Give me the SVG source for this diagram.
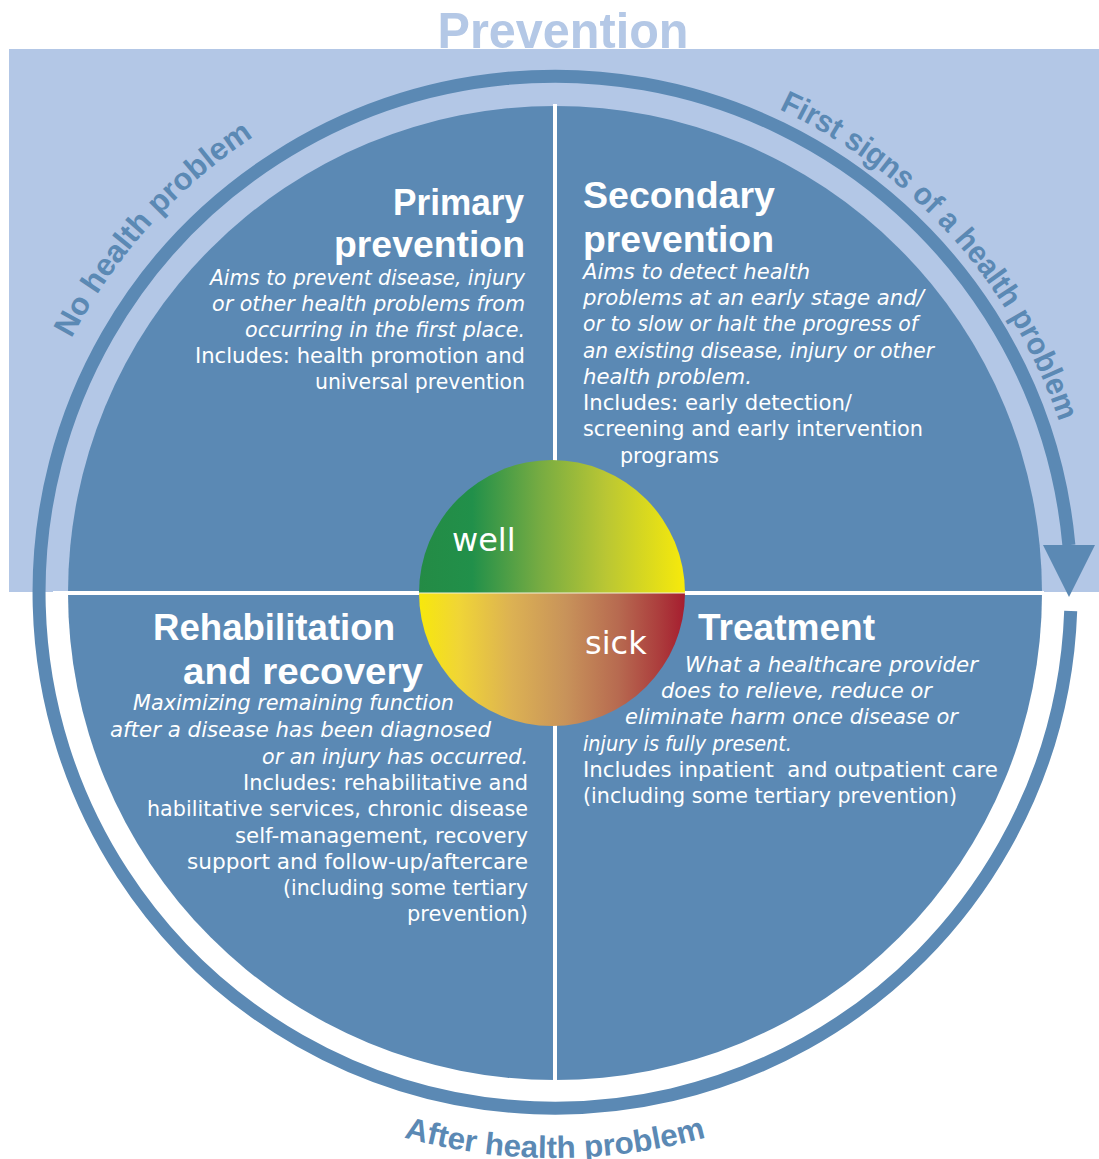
<svg xmlns="http://www.w3.org/2000/svg" width="1099" height="1159" viewBox="0 0 1099 1159">
<defs>
<style>
.q{fill:#5b89b4}
.bg{fill:#b3c7e6}
.div{stroke:#fff;stroke-width:4;fill:none}
.b{font-family:"DejaVu Sans","Liberation Sans",sans-serif;font-size:20.8px;fill:#fff}
.it{font-style:italic}
.h{font-family:"Liberation Sans",Arial,sans-serif;font-weight:bold;font-size:37px;fill:#fff}
.arc{font-family:"Liberation Sans",Arial,sans-serif;font-weight:bold;font-size:31px;fill:#5b89b4}
.e{text-anchor:end}
.ws{font-family:"DejaVu Sans",sans-serif;font-size:32px;fill:#fff}
</style>
<linearGradient id="gWell" x1="0" y1="0" x2="1" y2="0">
<stop offset="0" stop-color="#248b45"/>
<stop offset="0.2" stop-color="#21904a"/>
<stop offset="0.45" stop-color="#75ab42"/>
<stop offset="0.7" stop-color="#b9c634"/>
<stop offset="1" stop-color="#f7ea0b"/>
</linearGradient>
<linearGradient id="gSick" x1="0" y1="0" x2="1" y2="0">
<stop offset="0" stop-color="#f7e80c"/>
<stop offset="0.15" stop-color="#f0d536"/>
<stop offset="0.35" stop-color="#dcb153"/>
<stop offset="0.55" stop-color="#c8935a"/>
<stop offset="0.75" stop-color="#b76a50"/>
<stop offset="0.9" stop-color="#ac3e3d"/>
<stop offset="1" stop-color="#a61d2f"/>
</linearGradient>
<path id="pNo" d="M 41.9 405.3 A 546 546 0 0 1 368.3 78.9"/>
<path id="pFirst" d="M 692.7 78.1 A 532 532 0 0 1 1078.9 499.6"/>
<path id="pAfter" d="M 315.8 1105 A 566 566 0 0 0 794.2 1105"/>
</defs>

<g id="background">
<rect class="bg" x="9" y="49" width="1090" height="543"/>
</g>

<g id="title">
<text x="563" y="48" text-anchor="middle" font-family="Liberation Sans, Arial, sans-serif" font-weight="bold" font-size="50" fill="#b4c8e6" textLength="251" lengthAdjust="spacingAndGlyphs">Prevention</text>
</g>

<g id="connectors">
<path d="M 1070.7 610.9 A 516 516 0 1 1 1068.9 545.2" fill="none" stroke="#5b89b4" stroke-width="13"/>
<polygon points="1043,545 1095,545 1069,597" fill="#5b89b4"/>
</g>

<g id="quadrant-primary">
<path class="q" d="M555 593 L555 106 A487 487 0 0 0 68 593 Z"/>
<text class="h e" x="524" y="215" textLength="131" lengthAdjust="spacingAndGlyphs">Primary</text>
<text class="h e" x="525" y="257" textLength="191" lengthAdjust="spacingAndGlyphs">prevention</text>
<text class="b it e" x="525" y="285" textLength="315" lengthAdjust="spacingAndGlyphs">Aims to prevent disease, injury</text>
<text class="b it e" x="525" y="311" textLength="313" lengthAdjust="spacingAndGlyphs">or other health problems from</text>
<text class="b it e" x="525" y="337" textLength="280" lengthAdjust="spacingAndGlyphs">occurring in the first place.</text>
<text class="b e" x="525" y="363" textLength="330" lengthAdjust="spacingAndGlyphs">Includes: health promotion and</text>
<text class="b e" x="525" y="389" textLength="210" lengthAdjust="spacingAndGlyphs">universal prevention</text>
</g>

<g id="quadrant-secondary">
<path class="q" d="M555 593 L1042 593 A487 487 0 0 0 555 106 Z"/>
<text class="h" x="583" y="208" textLength="192" lengthAdjust="spacingAndGlyphs">Secondary</text>
<text class="h" x="583" y="252" textLength="191" lengthAdjust="spacingAndGlyphs">prevention</text>
<text class="b it" x="583" y="279" textLength="227" lengthAdjust="spacingAndGlyphs">Aims to detect health</text>
<text class="b it" x="583" y="305" textLength="341" lengthAdjust="spacingAndGlyphs">problems at an early stage and/</text>
<text class="b it" x="583" y="331" textLength="335" lengthAdjust="spacingAndGlyphs">or to slow or halt the progress of</text>
<text class="b it" x="583" y="358" textLength="351" lengthAdjust="spacingAndGlyphs">an existing disease, injury or other</text>
<text class="b it" x="583" y="384" textLength="169" lengthAdjust="spacingAndGlyphs">health problem.</text>
<text class="b" x="583" y="410" textLength="269" lengthAdjust="spacingAndGlyphs">Includes: early detection/</text>
<text class="b" x="583" y="436" textLength="340" lengthAdjust="spacingAndGlyphs">screening and early intervention</text>
<text class="b" x="620" y="463" textLength="99" lengthAdjust="spacingAndGlyphs">programs</text>
</g>

<g id="quadrant-treatment">
<path class="q" d="M555 593 L555 1080 A487 487 0 0 0 1042 593 Z"/>
<text class="h" x="698" y="640" textLength="177" lengthAdjust="spacingAndGlyphs">Treatment</text>
<text class="b it" x="685" y="672" textLength="293" lengthAdjust="spacingAndGlyphs">What a healthcare provider</text>
<text class="b it" x="661" y="698" textLength="271" lengthAdjust="spacingAndGlyphs">does to relieve, reduce or</text>
<text class="b it" x="625" y="724" textLength="333" lengthAdjust="spacingAndGlyphs">eliminate harm once disease or</text>
<text class="b it" x="583" y="751" textLength="209" lengthAdjust="spacingAndGlyphs">injury is fully present.</text>
<text class="b" x="583" y="777" textLength="415" lengthAdjust="spacingAndGlyphs" style="white-space:pre">Includes inpatient  and outpatient care</text>
<text class="b" x="583" y="803" textLength="374" lengthAdjust="spacingAndGlyphs">(including some tertiary prevention)</text>
</g>

<g id="quadrant-rehabilitation">
<path class="q" d="M555 593 L68 593 A487 487 0 0 0 555 1080 Z"/>
<text class="h" x="153" y="640" textLength="242" lengthAdjust="spacingAndGlyphs">Rehabilitation</text>
<text class="h" x="183" y="684" textLength="240" lengthAdjust="spacingAndGlyphs">and recovery</text>
<text class="b it" x="133" y="710" textLength="321" lengthAdjust="spacingAndGlyphs">Maximizing remaining function</text>
<text class="b it" x="110" y="737" textLength="381" lengthAdjust="spacingAndGlyphs">after a disease has been diagnosed</text>
<text class="b it e" x="528" y="764" textLength="266" lengthAdjust="spacingAndGlyphs">or an injury has occurred.</text>
<text class="b e" x="528" y="790" textLength="285" lengthAdjust="spacingAndGlyphs">Includes: rehabilitative and</text>
<text class="b e" x="528" y="816" textLength="381" lengthAdjust="spacingAndGlyphs">habilitative services, chronic disease</text>
<text class="b e" x="528" y="843" textLength="293" lengthAdjust="spacingAndGlyphs">self-management, recovery</text>
<text class="b e" x="528" y="869" textLength="341" lengthAdjust="spacingAndGlyphs">support and follow-up/aftercare</text>
<text class="b e" x="528" y="895" textLength="245" lengthAdjust="spacingAndGlyphs">(including some tertiary</text>
<text class="b e" x="528" y="921" textLength="121" lengthAdjust="spacingAndGlyphs">prevention)</text>
</g>

<g id="dividers">
<line class="div" x1="555" y1="104" x2="555" y2="1082"/>
<line class="div" x1="53" y1="593" x2="1044" y2="593"/>
</g>

<g id="center-well-sick">
<path d="M419 593 A133 133 0 0 1 685 593 Z" fill="url(#gWell)"/>
<path d="M419 593 A133 133 0 0 0 685 593 Z" fill="url(#gSick)"/>
<line x1="419" y1="593" x2="685" y2="593" stroke="#f4f1dc" stroke-width="1.2"/>
<text class="ws" x="452" y="551">well</text>
<text class="ws" x="585" y="654" font-size="31">sick</text>
</g>

<g id="phase-labels">
<text class="arc"><textPath href="#pNo" startOffset="73" textLength="275" lengthAdjust="spacingAndGlyphs">No health problem</textPath></text>
<text class="arc"><textPath href="#pFirst" startOffset="92" textLength="431" lengthAdjust="spacingAndGlyphs">First signs of a health problem</textPath></text>
<text class="arc"><textPath href="#pAfter" startOffset="94" textLength="306" lengthAdjust="spacingAndGlyphs">After health problem</textPath></text>
</g>
</svg>
